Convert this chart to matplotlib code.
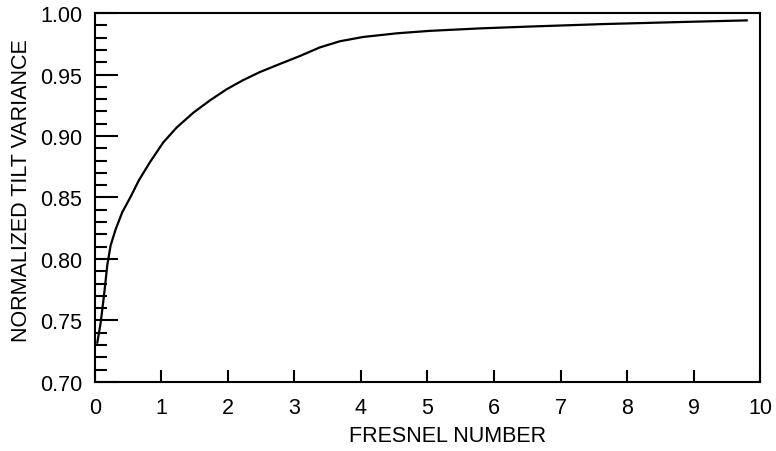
import matplotlib
matplotlib.use("Agg")
import matplotlib.pyplot as plt
from matplotlib.ticker import MultipleLocator

plt.rcParams['font.family'] = ['Liberation Sans', 'DejaVu Sans']

fresnel = [0.035, 0.085, 0.135, 0.185, 0.235, 0.31, 0.41, 0.54, 0.66, 0.83, 1.03,
           1.23, 1.48, 1.73, 1.98, 2.23, 2.48, 2.80, 3.08, 3.38, 3.68, 4.03, 4.54,
           5.04, 5.79, 6.54, 7.64, 8.90, 9.80]
variance = [0.732, 0.748, 0.770, 0.795, 0.811, 0.824, 0.838, 0.851, 0.864, 0.879, 0.895,
            0.907, 0.919, 0.929, 0.938, 0.9455, 0.952, 0.959, 0.965, 0.972, 0.9770, 0.9805, 0.9835,
            0.9855, 0.9875, 0.989, 0.991, 0.9928, 0.994]

xticks = list(range(0, 11))
yticks = [0.70, 0.75, 0.80, 0.85, 0.90, 0.95, 1.00]
ytick_labels = ["0.70", "0.75", "0.80", "0.85", "0.90", "0.95", "1.00"]

fig = plt.figure(figsize=(7.76, 4.52), dpi=100)
ax = fig.add_axes([0.1224, 0.1527, 0.857, 0.8163])
ax.plot(fresnel, variance, color='black', lw=1.6, solid_joinstyle='round')

ax.set_xlim(0, 10)
ax.set_ylim(0.70, 1.00)
ax.set_xticks(xticks)
ax.set_xticklabels([str(t) for t in xticks])
ax.set_yticks(yticks)
ax.set_yticklabels(ytick_labels)
ax.yaxis.set_minor_locator(MultipleLocator(0.01))

for s in ax.spines.values():
    s.set_linewidth(1.5)

fs = 15.5
ax.tick_params(axis='x', which='major', direction='in', length=8.5, width=1.5,
               labelsize=fs, pad=11)
ax.tick_params(axis='y', which='major', direction='in', length=16.5, width=1.5,
               labelsize=fs, pad=9)
ax.tick_params(axis='y', which='minor', direction='in', length=8.5, width=1.5)

ax.set_xlabel("FRESNEL NUMBER", fontsize=fs, va='center', ha='center')
ax.xaxis.set_label_coords(0.530, -0.145)
ax.set_ylabel("NORMALIZED TILT VARIANCE", fontsize=fs, va='center', ha='center')
ax.yaxis.set_label_coords(-0.111, 0.521)

fig.savefig("out.png", dpi=100)
